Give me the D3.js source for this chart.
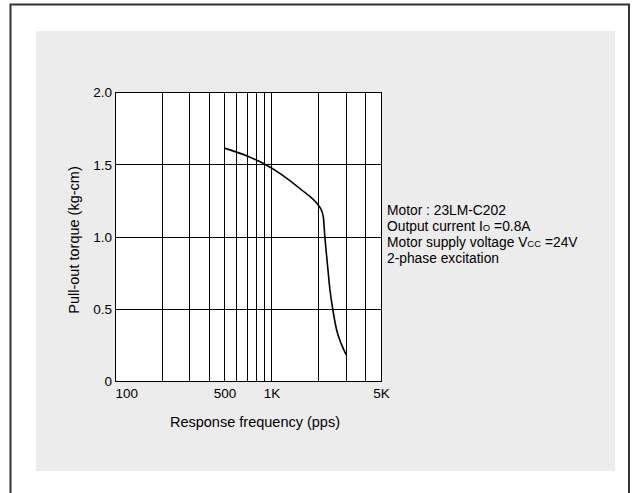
<!DOCTYPE html>
<html>
<head>
<meta charset="utf-8">
<script src="https://cdn.jsdelivr.net/npm/d3@7"></script>
<style>
  html, body { margin: 0; padding: 0; background: #fff; }
  svg { display: block; font-family: "Liberation Sans", Arial, Helvetica, sans-serif; }
</style>
</head>
<body>
<svg id="chart" width="639" height="493"></svg>
<script>
// ---- data ----
const frequency = [500, 710, 900, 1160, 1550, 1980, 2050, 2140, 2190, 2270, 2360, 2460, 2600, 2800, 3000];
const torque    = [1.615, 1.557, 1.505, 1.432, 1.327, 1.223, 1.20, 1.14, 1.0, 0.82, 0.635, 0.5, 0.36, 0.255, 0.185];
const xTickValues = [100, 500, 1000, 5000];
const xTickLabels = ["100", "500", "1K", "5K"];
const xGridValues = [200, 300, 400, 500, 600, 700, 800, 900, 1000, 2000, 3000, 4000];
const yTickValues = [0, 0.5, 1.0, 1.5, 2.0];
const yTickLabels = ["0", "0.5", "1.0", "1.5", "2.0"];
const xTitle = "Response frequency (pps)";
const yTitle = "Pull-out torque (kg-cm)";

// ---- layout ----
const svg = d3.select("#chart");
const plot = { left: 115, right: 381, top: 92.5, bottom: 381.5 };

// outer frame (open at bottom)
svg.append("path")
  .attr("d", "M10.5,493 L10.5,4.5 L629,4.5 L629,493")
  .attr("fill", "none").attr("stroke", "#333").attr("stroke-width", 2);

// gray panel
svg.append("rect").attr("x", 36).attr("y", 31).attr("width", 579).attr("height", 440)
  .attr("fill", "#ececec");

const x = d3.scaleLog().domain([100, 5000]).range([plot.left, plot.right]);
const y = d3.scaleLinear().domain([0, 2]).range([plot.bottom, plot.top]);

// plot background
svg.append("rect")
  .attr("x", plot.left).attr("y", plot.top)
  .attr("width", plot.right - plot.left).attr("height", plot.bottom - plot.top)
  .attr("fill", "#fff");

const grid = svg.append("g").attr("stroke", "#000").attr("stroke-width", 1).attr("shape-rendering", "crispEdges");
grid.selectAll("line.vx").data(xGridValues).join("line")
  .attr("x1", d => x(d)).attr("x2", d => x(d))
  .attr("y1", plot.top).attr("y2", plot.bottom);
grid.selectAll("line.hy").data(yTickValues.slice(1, -1)).join("line")
  .attr("class", "hy")
  .attr("x1", plot.left).attr("x2", plot.right)
  .attr("y1", d => y(d)).attr("y2", d => y(d));
svg.append("rect")
  .attr("x", plot.left).attr("y", plot.top)
  .attr("width", plot.right - plot.left).attr("height", plot.bottom - plot.top)
  .attr("fill", "none").attr("stroke", "#000").attr("stroke-width", 1)
  .attr("shape-rendering", "crispEdges");

// axes (labels only)
const xAxis = svg.append("g").attr("transform", `translate(0,${plot.bottom})`)
  .call(d3.axisBottom(x).tickValues(xTickValues).tickSize(0).tickPadding(7)
        .tickFormat((d, i) => xTickLabels[i]));
xAxis.select(".domain").remove();
xAxis.selectAll("text").attr("font-size", 13.5).attr("fill", "#000")
  .attr("font-family", "Liberation Sans, Arial, sans-serif")
  .attr("text-anchor", (d, i) => i === 0 ? "start" : "middle");

const yAxis = svg.append("g").attr("transform", `translate(${plot.left - 3},0)`)
  .call(d3.axisLeft(y).tickValues(yTickValues).tickSize(0).tickPadding(0)
        .tickFormat((d, i) => yTickLabels[i]));
yAxis.select(".domain").remove();
yAxis.selectAll("text").attr("font-size", 13.5).attr("fill", "#000")
  .attr("font-family", "Liberation Sans, Arial, sans-serif");

// titles
svg.append("text").attr("x", 255).attr("y", 427).attr("text-anchor", "middle")
  .attr("font-size", 14.5).attr("fill", "#000").text(xTitle);
svg.append("text").attr("transform", "translate(79,240) rotate(-90)")
  .attr("text-anchor", "middle").attr("font-size", 14.5).attr("fill", "#000").text(yTitle);

// curve
const line = d3.line().x(d => x(d[0])).y(d => y(d[1])).curve(d3.curveMonotoneX);
svg.append("path").datum(frequency.map((f, i) => [f, torque[i]]))
  .attr("d", line).attr("fill", "none").attr("stroke", "#000").attr("stroke-width", 1.6);

// annotation
const ann = svg.append("g").attr("font-size", 13.8).attr("fill", "#000");
const ax = 387, ay0 = 215, lh = 16;
ann.append("text").attr("x", ax).attr("y", ay0).text("Motor : 23LM-C202");
const t2 = ann.append("text").attr("x", ax).attr("y", ay0 + lh);
t2.append("tspan").text("Output current I");
t2.append("tspan").attr("font-size", 9.5).text("O");
t2.append("tspan").text(" =0.8A");
const t3 = ann.append("text").attr("x", ax).attr("y", ay0 + 2 * lh);
t3.append("tspan").text("Motor supply voltage V");
t3.append("tspan").attr("font-size", 9.5).text("CC");
t3.append("tspan").text(" =24V");
ann.append("text").attr("x", ax).attr("y", ay0 + 3 * lh).text("2-phase excitation");
</script>
</body>
</html>
